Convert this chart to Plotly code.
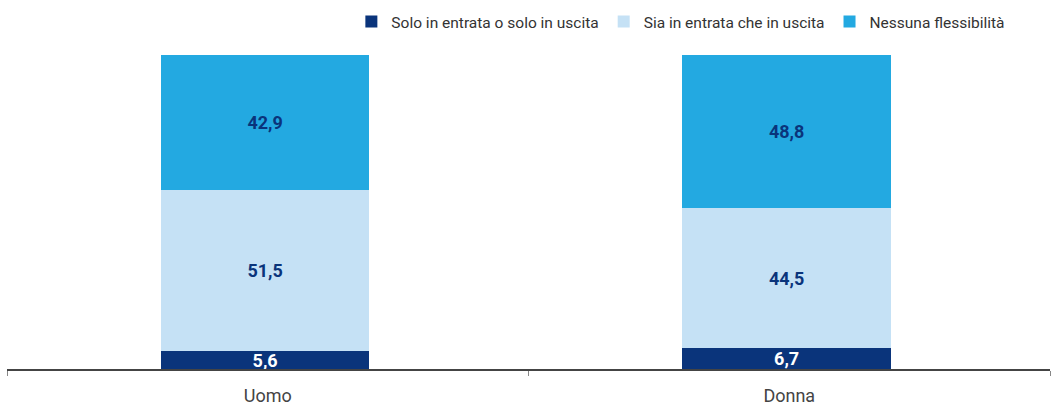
import plotly.graph_objects as go

categories = ["Uomo", "Donna"]
series_names = [
    "Solo in entrata o solo in uscita",
    "Sia in entrata che in uscita",
    "Nessuna flessibilità",
]
solo = [5.6, 6.7]
entrambi = [51.5, 44.5]
nessuna = [42.9, 48.8]

colors = ["#0a347b", "#c5e1f5", "#23a9e1"]
label_colors = ["#ffffff", "#0a347b", "#0a347b"]
FONT = "Roboto, sans-serif"

fig = go.Figure()
for name, vals, col, lc in zip(series_names, [solo, entrambi, nessuna], colors, label_colors):
    fig.add_trace(go.Bar(
        x=categories, y=vals, name=name,
        width=0.4, offset=-0.205,
        marker=dict(color=col, line=dict(width=0)),
        texttemplate="%{y:.1f}", textposition="inside",
        insidetextanchor="middle", constraintext="none",
        textfont=dict(family=FONT, size=18, color=lc, weight="bold"),
        hoverinfo="skip",
    ))

fig.update_layout(
    barmode="stack",
    separators=",.",
    width=1053, height=406,
    margin=dict(l=7, r=3, t=55, b=37, autoexpand=False),
    paper_bgcolor="white", plot_bgcolor="white",
    font=dict(family=FONT, color="#444444"),
    showlegend=True,
    legend=dict(
        orientation="h", x=0.962, xanchor="right", y=1.105, yanchor="middle",
        font=dict(family=FONT, size=15.5, color="#333333"),
        itemwidth=30, traceorder="normal", itemclick=False,
    ),
    xaxis=dict(
        showline=True, linecolor="#444444", linewidth=1.5,
        ticks="outside", tickson="boundaries", ticklen=5, tickcolor="#888888",
        tickfont=dict(family=FONT, size=18, color="#444444"),
        ticklabelstandoff=10,
        showgrid=False,
    ),
    yaxis=dict(range=[0, 100], visible=False, showgrid=False),
)

fig.write_html("out.html")
